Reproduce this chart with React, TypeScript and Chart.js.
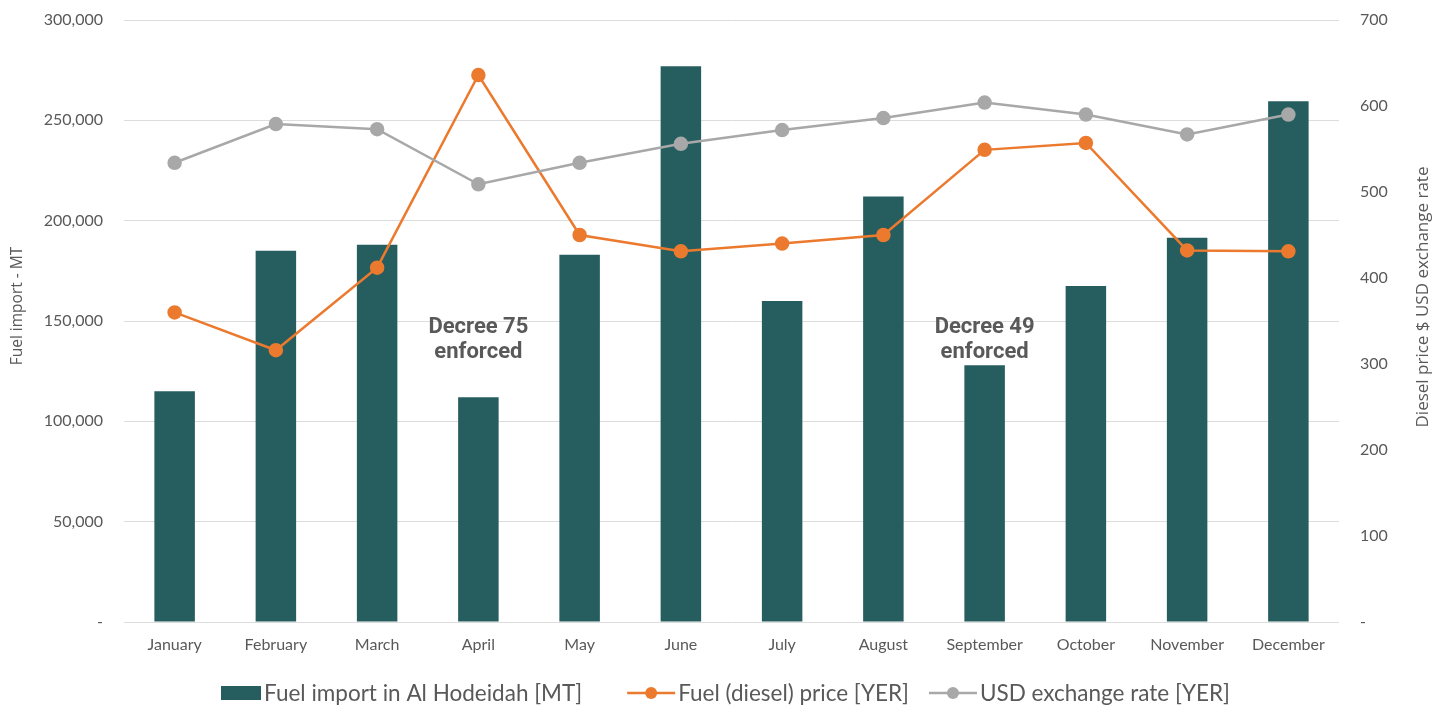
import React, { useEffect, useRef } from "react";
import { Chart, registerables } from "chart.js";

Chart.register(...registerables);

const months = ["January", "February", "March", "April", "May", "June", "July", "August", "September", "October", "November", "December"];
const fuelImport = [115000, 185000, 188000, 112000, 183000, 277000, 160000, 212000, 128000, 167500, 191500, 259500];
const dieselPrice = [360, 316, 412, 636, 450, 431, 440, 450, 549, 557, 432, 431];
const usdRate = [534, 579, 573, 509, 534, 556, 572, 586, 604, 590, 567, 590];
const seriesNames = ["Fuel import in Al Hodeidah [MT]", "Fuel (diesel) price [YER]", "USD exchange rate [YER]"];
const leftTitle = "Fuel import - MT";
const rightTitle = "Diesel price $ USD exchange rate";
const annotationLines = [["Decree 75", "enforced"], ["Decree 49", "enforced"]];
const annotationMonths = [3, 8];
const annotationValues = [140500, 140500];

const BAR = "#265e5f";
const ORANGE = "#ec7a2e";
const GRAY = "#a8a8a8";
const TXT = "#595959";
const TICKFONT = "Lato, 'Open Sans', sans-serif";
const TITLEFONT = "'Open Sans', sans-serif";

export default function App() {
  const ref = useRef<HTMLCanvasElement | null>(null);
  useEffect(() => {
    document.body.style.margin = "0";
    const annotationPlugin = {
      id: "decrees",
      afterDatasetsDraw(chart: any) {
        const { ctx, scales } = chart;
        ctx.save();
        ctx.fillStyle = TXT;
        ctx.font = "bold 22px Roboto";
        ctx.textAlign = "center";
        ctx.textBaseline = "middle";
        annotationLines.forEach((lines, i) => {
          const x = scales.x.getPixelForValue(annotationMonths[i]);
          const y = scales.y.getPixelForValue(annotationValues[i]);
          ctx.fillText(lines[0], x, y - 12.5);
          ctx.fillText(lines[1], x, y + 12.5);
        });
        ctx.restore();
      },
    };
    const titlesPlugin = {
      id: "axisTitles",
      afterDraw(chart: any) {
        const { ctx, chartArea } = chart;
        const cy = (chartArea.top + chartArea.bottom) / 2;
        ctx.save();
        ctx.fillStyle = TXT;
        ctx.textAlign = "center";
        ctx.textBaseline = "middle";
        ctx.font = "15.5px " + TITLEFONT;
        ctx.translate(18, cy - 15);
        ctx.rotate(-Math.PI / 2);
        ctx.fillText(leftTitle, 0, 0);
        ctx.restore();
        ctx.save();
        ctx.fillStyle = TXT;
        ctx.textAlign = "center";
        ctx.textBaseline = "middle";
        ctx.font = "17px " + TITLEFONT;
        ctx.translate(1423, cy - 24);
        ctx.rotate(-Math.PI / 2);
        ctx.fillText(rightTitle, 0, 0);
        ctx.restore();
      },
    };
    const legendPlugin = {
      id: "customLegend",
      afterDraw(chart: any) {
        const { ctx } = chart;
        const kinds = ["bar", "line", "line"];
        const colors = [BAR, ORANGE, GRAY];
        const gaps = [45, 20];
        ctx.save();
        ctx.font = "22.5px " + TICKFONT;
        const symW = kinds.map((k) => (k === "bar" ? 40 : 48));
        const textW = seriesNames.map((t) => ctx.measureText(t).width);
        let total = 0;
        seriesNames.forEach((_, i) => {
          total += symW[i] + 3 + textW[i] + (i < gaps.length ? gaps[i] : 0);
        });
        let x = chart.width / 2 + 9 - total / 2;
        const y = chart.height - 16;
        ctx.textBaseline = "middle";
        ctx.textAlign = "left";
        seriesNames.forEach((t, i) => {
          ctx.fillStyle = colors[i];
          ctx.strokeStyle = colors[i];
          if (kinds[i] === "bar") {
            ctx.fillRect(x, y - 7, 40, 14);
          } else {
            ctx.lineWidth = 2.5;
            ctx.beginPath();
            ctx.moveTo(x, y);
            ctx.lineTo(x + symW[i], y);
            ctx.stroke();
            ctx.beginPath();
            ctx.arc(x + symW[i] / 2, y, 6, 0, Math.PI * 2);
            ctx.fill();
          }
          x += symW[i] + 3;
          ctx.fillStyle = TXT;
          ctx.fillText(t, x, y + 1);
          x += textW[i] + (i < gaps.length ? gaps[i] : 0);
        });
        ctx.restore();
      },
    };
    const chart = new Chart(ref.current!, {
      type: "bar",
      data: {
        labels: months,
        datasets: [
          {
            type: "bar",
            label: seriesNames[0],
            data: fuelImport,
            backgroundColor: BAR,
            barPercentage: 0.4,
            categoryPercentage: 1,
            yAxisID: "y",
            order: 3,
          },
          {
            type: "line",
            label: seriesNames[1],
            data: dieselPrice,
            borderColor: ORANGE,
            backgroundColor: ORANGE,
            borderWidth: 2.5,
            pointRadius: 6,
            pointBackgroundColor: ORANGE,
            pointBorderColor: ORANGE,
            yAxisID: "y1",
            order: 2,
          },
          {
            type: "line",
            label: seriesNames[2],
            data: usdRate,
            borderColor: GRAY,
            backgroundColor: GRAY,
            borderWidth: 2.5,
            pointRadius: 6,
            pointBackgroundColor: GRAY,
            pointBorderColor: GRAY,
            yAxisID: "y1",
            order: 1,
          },
        ] as any,
      },
      options: {
        animation: false,
        responsive: false,
        maintainAspectRatio: false,
        layout: { padding: { top: 20, bottom: 43, left: 0, right: 0 } },
        plugins: {
          tooltip: { enabled: false },
          legend: { display: false },
        },
        scales: {
          x: {
            grid: { display: false },
            border: { display: false },
            ticks: { color: TXT, font: { family: TICKFONT, size: 16 }, padding: 5, maxRotation: 0 },
            afterFit: (s: any) => { s.height = 44; },
          },
          y: {
            position: "left",
            min: 0,
            max: 300000,
            grid: { color: "#dcdcdc", drawTicks: false, lineWidth: 1 },
            border: { display: false },
            ticks: {
              stepSize: 50000,
              padding: 21,
              color: TXT,
              font: { family: TICKFONT, size: 16 },
              callback: (v: any) => (v === 0 ? "-" : Number(v).toLocaleString("en-US")),
            },
            afterFit: (s: any) => { s.width = 124; s.paddingTop = 0; s.paddingBottom = 0; },
          },
          y1: {
            position: "right",
            min: 0,
            max: 700,
            grid: { display: false, drawTicks: false },
            border: { display: false },
            ticks: {
              stepSize: 100,
              padding: 21,
              color: TXT,
              font: { family: TICKFONT, size: 16 },
              callback: (v: any) => (v === 0 ? "-" : String(v)),
            },
            afterFit: (s: any) => { s.width = 94; s.paddingTop = 0; s.paddingBottom = 0; },
          },
        },
      } as any,
      plugins: [annotationPlugin, titlesPlugin, legendPlugin],
    });
    return () => chart.destroy();
  }, []);
  return (
    <div style={{ width: 1433, height: 709 }}>
      <canvas ref={ref} width={1433} height={709} style={{ width: 1433, height: 709, display: "block" }} />
    </div>
  );
}
